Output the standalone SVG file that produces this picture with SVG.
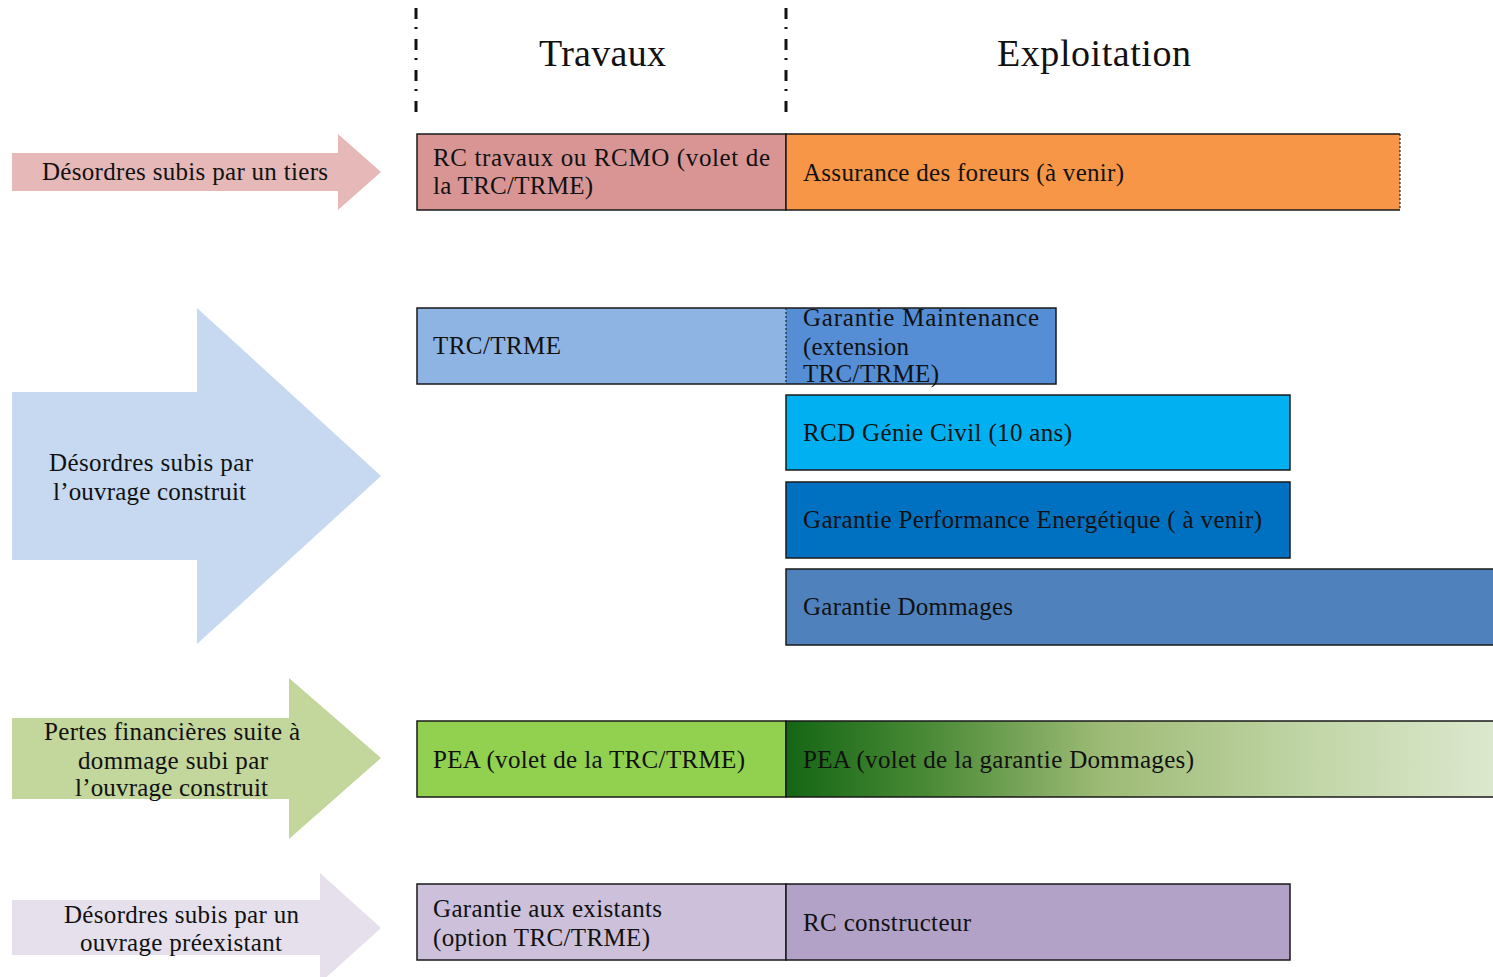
<svg xmlns="http://www.w3.org/2000/svg" width="1493" height="977" viewBox="0 0 1493 977">
<defs>
<linearGradient id="gPEA" x1="786" y1="0" x2="1493" y2="0" gradientUnits="userSpaceOnUse">
<stop offset="0" stop-color="#146614"/>
<stop offset="0.2" stop-color="#4A8A36"/>
<stop offset="0.45" stop-color="#9EBB76"/>
<stop offset="0.75" stop-color="#C2D6A8"/>
<stop offset="1" stop-color="#DCE8CE"/>
</linearGradient>
</defs>
<style>
text{font-family:"Liberation Serif","Times New Roman",serif;fill:#111;font-size:25px}
.t{font-size:38px}
.box{stroke:#1a1a1a;stroke-width:1.5}
.sep{stroke:#111;stroke-width:3;stroke-dasharray:11 8 2 10;fill:none}
.dot{stroke:#222;stroke-width:1.2;stroke-dasharray:2 2;fill:none}
</style>
<rect width="1493" height="977" fill="#ffffff"/>

<g id="headers">
<line class="sep" x1="416" y1="8" x2="416" y2="114"/>
<line class="sep" x1="786" y1="8" x2="786" y2="114"/>
<text class="t" x="539" y="66" textLength="127" lengthAdjust="spacing">Travaux</text>
<text class="t" x="997" y="66" textLength="194" lengthAdjust="spacing">Exploitation</text>
</g>

<g id="arrows">
<g id="arrow-tiers">
<polygon points="12,153 338,153 338,134 381,172 338,210 338,191 12,191" fill="#E6B9B8"/>
<text x="42" y="180" textLength="286" lengthAdjust="spacing">Désordres subis par un tiers</text>
</g>
<g id="arrow-ouvrage">
<polygon points="12,392 197,392 197,308 381,476 197,644 197,560 12,560" fill="#C6D9F1"/>
<text x="49" y="471" textLength="204" lengthAdjust="spacing">Désordres subis par</text>
<text x="53" y="500" textLength="193" lengthAdjust="spacing">l’ouvrage construit</text>
</g>
<g id="arrow-pertes">
<polygon points="12,718 289,718 289,678 381,758 289,839 289,799 12,799" fill="#C3D69B"/>
<text x="44" y="740" textLength="256" lengthAdjust="spacing">Pertes financières  suite à</text>
<text x="78" y="769" textLength="190" lengthAdjust="spacing">dommage subi par</text>
<text x="75" y="796" textLength="193" lengthAdjust="spacing">l’ouvrage construit</text>
</g>
<g id="arrow-preexistant">
<polygon points="12,900 320,900 320,873 381,928 320,983 320,955 12,955" fill="#E5E0EC"/>
<text x="64" y="923" textLength="235" lengthAdjust="spacing">Désordres subis par un</text>
<text x="80" y="951" textLength="202" lengthAdjust="spacing">ouvrage préexistant</text>
</g>
</g>

<g id="rc-travaux">
<rect class="box" x="417" y="134" width="369" height="76" fill="#D99594"/>
<text x="433" y="166" textLength="337" lengthAdjust="spacing">RC travaux ou RCMO (volet de</text>
<text x="433" y="194" textLength="160" lengthAdjust="spacing">la TRC/TRME)</text>
</g>
<g id="assurance-foreurs">
<rect x="786" y="134" width="614" height="76" fill="#F79646"/>
<path d="M1400,134 H786 V210 H1400" fill="none" stroke="#1a1a1a" stroke-width="1.5"/>
<line class="dot" x1="1400" y1="134" x2="1400" y2="210"/>
<text x="803" y="181" textLength="321" lengthAdjust="spacing">Assurance des foreurs (à venir)</text>
</g>

<g id="trc-trme">
<rect x="417" y="308" width="369" height="76" fill="#8EB4E3"/>
<path d="M786,308 H417 V384 H786" fill="none" stroke="#1a1a1a" stroke-width="1.5"/>
<text x="433" y="354" textLength="128" lengthAdjust="spacing">TRC/TRME</text>
</g>
<g id="garantie-maintenance">
<rect x="786" y="308" width="270" height="76" fill="#558ED5"/>
<path d="M786,308 H1056 V384 H786" fill="none" stroke="#1a1a1a" stroke-width="1.5"/>
<line class="dot" x1="786" y1="308" x2="786" y2="384"/>
<text x="803" y="326" textLength="236" lengthAdjust="spacing">Garantie  Maintenance</text>
<text x="803" y="355" textLength="106" lengthAdjust="spacing">(extension</text>
<text x="803" y="382" textLength="136" lengthAdjust="spacing">TRC/TRME)</text>
</g>
<g id="rcd-genie-civil">
<rect class="box" x="786" y="395" width="504" height="75" fill="#00B0F0"/>
<text x="803" y="441" textLength="269" lengthAdjust="spacing">RCD Génie Civil (10 ans)</text>
</g>
<g id="garantie-performance">
<rect class="box" x="786" y="482" width="504" height="76" fill="#0070C0"/>
<text x="803" y="528" textLength="459" lengthAdjust="spacing">Garantie Performance  Energétique ( à venir)</text>
</g>
<g id="garantie-dommages">
<rect class="box" x="786" y="569" width="720" height="76" fill="#4F81BD"/>
<text x="803" y="615" textLength="210" lengthAdjust="spacing">Garantie Dommages</text>
</g>

<g id="pea-trc">
<rect class="box" x="417" y="721" width="369" height="76" fill="#92D050"/>
<text x="433" y="768" textLength="312" lengthAdjust="spacing">PEA (volet de la TRC/TRME)</text>
</g>
<g id="pea-dommages">
<rect class="box" x="786" y="721" width="720" height="76" fill="url(#gPEA)"/>
<text x="803" y="768" textLength="391" lengthAdjust="spacing">PEA (volet de la garantie Dommages)</text>
</g>

<g id="garantie-existants">
<rect class="box" x="417" y="884" width="369" height="76" fill="#CCC0DA"/>
<text x="433" y="917" textLength="229" lengthAdjust="spacing">Garantie aux existants</text>
<text x="433" y="946" textLength="217" lengthAdjust="spacing">(option TRC/TRME)</text>
</g>
<g id="rc-constructeur">
<rect class="box" x="786" y="884" width="504" height="76" fill="#B2A2C7"/>
<text x="803" y="931" textLength="168" lengthAdjust="spacing">RC constructeur</text>
</g>

<g id="connectors"></g>
</svg>
